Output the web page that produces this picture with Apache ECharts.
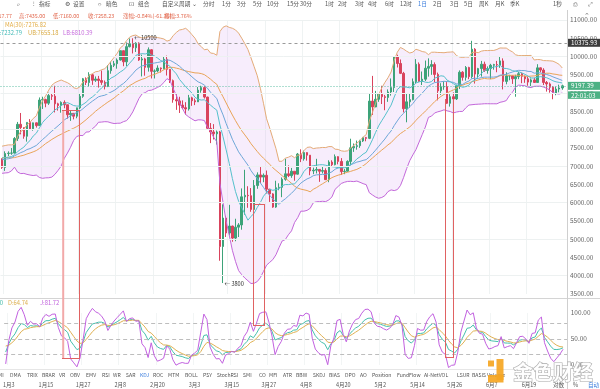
<!DOCTYPE html>
<html><head><meta charset="utf-8">
<script src="https://cdn.jsdelivr.net/npm/echarts@6/dist/echarts.min.js"></script>
<style>html,body{margin:0;padding:0;background:#fff}#c{width:600px;height:389px}</style>
</head><body><div id="c"></div><script>
// ---------- DATA ----------
// daily candles [open, high, low, close], 2020-01-02 .. 2020-06-30
const ohlc = [
[7200,7212,6925,6965],[6965,7405,6870,7345],[7345,7405,7275,7355],[7355,7495,7310,7358],[7358,7795,7345,7758],
[7758,8210,7690,8145],[8145,8455,7870,8055],[8055,8055,7750,7818],[7818,8200,7670,8197],[8197,8287,8030,8020],
[8020,8190,7970,8185],[8185,8195,8055,8110],[8110,8880,8105,8810],[8810,8900,8565,8822],[8822,8846,8612,8723],
[8723,9010,8675,8930],[8930,9000,8810,8915],[8915,9200,8470,8706],[8706,8735,8520,8658],[8658,8773,8462,8745],
[8745,8800,8585,8680],[8680,8680,8300,8406],[8406,8520,8238,8445],[8445,8445,8280,8367],[8367,8600,8310,8596],
[8596,8980,8560,8910],[8910,9414,8870,9392],[9392,9430,9220,9289],[9289,9570,9180,9500],[9500,9525,9225,9350],
[9350,9455,9305,9385],[9385,9469,9150,9344],[9344,9617,9225,9293],[9293,9344,9100,9180],[9180,9766,9163,9613],
[9613,9860,9530,9760],[9760,9880,9712,9805],[9805,9948,9667,9905],[9905,10160,9890,10160],[10160,10165,9735,9855],
[9855,10385,9740,10270],[10270,10495,10250,10350],[10350,10500,10085,10240],[10240,10393,10125,10365],[10365,10390,9880,9905],
[9905,10050,9455,9935],[9935,9965,9475,9705],[9705,10250,9587,10185],[10185,10200,9400,9595],[9595,9648,9400,9605],
[9605,9760,9567,9685],[9685,9700,9560,9665],[9665,9990,9650,9925],[9925,10025,9480,9650],[9650,9655,9275,9340],
[9340,9370,8735,8820],[8820,8970,8540,8785],[8785,8898,8455,8670],[8670,8800,8560,8600],
[8600,8750,8411,8565],[8565,8950,8520,8870],[8870,8900,8650,8790],[8790,8850,8670,8760],[8760,9165,8755,9080],
[9080,9200,9010,9150],[9150,9190,8850,8890],[8890,8900,8000,8035],[8035,8180,7630,7935],[7935,8150,7730,7885],
[7885,7975,7590,7935],[7935,7965,4410,4800],[4800,5955,3800,5580],[5580,5640,5060,5170],[5170,5940,5100,5360],
[5360,5370,4930,5030],[5030,5560,4945,5330],[5330,5440,5060,5390],[5390,6390,5260,6160],[6160,6900,5670,6200],
[6200,6450,5860,6190],[6190,6400,5750,5815],[5815,6620,5690,6470],[6470,6830,6380,6760],[6760,6975,6535,6700],
[6700,6800,6560,6750],[6750,6880,6250,6370],[6370,6375,6020,6240],[6240,6260,5860,5880],[5880,6600,5860,6410],
[6410,6530,6340,6420],
[6420,6690,6150,6640],[6640,7200,6600,6790],[6790,7020,6700,6740],[6740,6950,6680,6860],[6860,6860,6600,6780],
[6780,7360,6770,7330],[7330,7460,7110,7200],[7200,7425,7150,7370],[7370,7380,7150,7300],[7300,7300,6750,6870],
[6870,6960,6780,6890],[6890,7200,6800,6910],[6910,6910,6570,6860],[6860,6990,6800,6880],[6880,6940,6620,6630],
[6630,7160,6560,7110],[7110,7160,6985,7040],[7040,7320,7020,7260],[7260,7270,7050,7130],[7130,7220,6760,6850],
[6850,6920,6780,6860],[6860,7160,6850,7130],[7130,7750,7020,7500],[7500,7620,7390,7540],[7540,7700,7450,7560],
[7560,7720,7500,7690],[7690,7800,7660,7780],[7780,7800,7680,7760],[7760,8980,7740,8780],[8780,9470,8400,8620],
[8620,9060,8620,8830],[8830,9000,8760,8970],[8970,9200,8700,8900],[8900,8950,8530,8880],[8880,9100,8760,9030],
[9030,9400,8930,9150],[9150,10000,9030,9990],[9990,10050,9700,9810],[9810,9920,9520,9540],[9540,9580,8470,8570],
[8570,8980,8200,8760],[8760,8980,8600,8820],[8820,9400,8800,9310],[9310,9930,9260,9790],[9790,9840,9300,9320],
[9320,9590,9220,9380],[9380,9890,9330,9680],[9680,9950,9450,9730],[9730,9900,9500,9780],[9780,9840,9300,9510],
[9510,9560,8800,9060],[9060,9270,8950,9170],[9170,9320,9090,9180],[9180,9300,8700,8720],[8720,8970,8630,8900],
[8900,9020,8700,8840],[8840,9230,8810,9200],[9200,9620,9110,9570],[9570,9600,9340,9430],[9430,9740,9340,9700],
[9700,9720,9380,9450],
[9450,10430,9400,10200],[10200,10230,9260,9520],[9520,9690,9390,9670],[9670,9880,9450,9790],[9790,9860,9580,9620],
[9620,9730,9530,9670],[9670,9800,9380,9760],[9760,9800,9640,9780],[9780,9880,9570,9770],[9770,9990,9690,9880],
[9880,9950,9100,9320],[9320,9570,9240,9470],[9470,9500,9350,9470],[9470,9480,9250,9390],[9390,9500,8900,9450],
[9450,9580,9380,9530],[9530,9560,9270,9460],[9460,9480,9280,9390],[9390,9440,9200,9300],[9300,9400,9190,9360],
[9360,9420,9280,9290],[9290,9790,9280,9690],[9690,9700,9570,9630],[9630,9680,9220,9290],[9290,9330,9040,9250],
[9250,9290,9010,9160],[9160,9190,8830,9000],[9000,9180,8940,9110],[9110,9230,9020,9140],[9140,9230,9090,9197.39]
];
// preceding days (2019-12-04 .. 2020-01-01), used only to warm up the indicators
const warmHigh  = [7750,7485,7590,7630,7580,7620,7400,7270,7265,7310,7290,7190,7130,6940,7440,7350,7220,7200,7520,7695,7440,7270,7435,7275,7365,7520,7410,7320,7255];
const warmLow   = [7080,7170,7330,7480,7400,7270,7170,7130,7075,7150,7030,7020,6850,6560,6435,7040,7105,7125,7125,7265,7160,7130,7155,7060,7240,7290,7220,7150,7175];
const warmClose = [7200,7395,7545,7505,7505,7340,7220,7200,7190,7255,7065,7110,6885,6615,7280,7150,7190,7145,7510,7320,7255,7205,7200,7255,7315,7390,7245,7195,7200];
const firstDay = [2020, 0, 2];
const categoryCount = 182;
const priceAxis = {min: 3500, max: 11000, step: 500};
const gridLevels = [4000, 5000, 6000, 7000, 8000, 9000, 10000, 11000];
const kdjAxis = {min: 0, max: 100, step: 50};
const kdjLevels = [20, 50, 80];
const refPrice = 10375.93;
const lastPrice = 9197.39;
const countdown = '22:01:03';
const infoLine1 = [['开:7317.77',12,'right'],['高:7435.00',19],['低:7160.00',53],['收:7258.23',88],['涨幅:-0.84%(-61.35)',123],['振幅:3.76%',164]];
const infoLine2 = [['MA(30):7276.82',5,'#e3ad45']];
const infoLine3 = [['MID:7232.79',22,'#3fb9b6','right'],['UB:7655.18',28,'#d9ab45'],['LB:6810.39',63,'#c66bdc']];
const kdjLegend = [['K:70.40',3,'#3fb9a6','right'],['D:64.74',8,'#dcae4c'],['J:81.72',40,'#c062dc']];
const toolbar = [['⌕',17],['⫶',33],['指标',39],['⚙',65],['设置',73],['☼',97],['暗色',106],['⊡',129],['组合',138],['自定义周期 ⌄',162],
 ['分时',203],['1分',222],['3分',237],['5分',253],['10分',267],['15分',287],['30分',300],['1时',325],['2时',338],['3时',355],
 ['4时',368],['6时',385],['12时',400],['1日',418,'#3b7ddd'],['2日',433],['3日',450],['5日',464],['周K',479],['月K',495],['季K',510],
 ['1秒',553],['⎙',573],['⤢',588]];
const indicatorTabs = [['MI',-2],['DMA',10],['TRIX',27],['BRAR',42],['VR',59],['OBV',70],['EMV',86],['RSI',102],['WR',113],['SAR',126],
 ['KDJ',140,'#3b7ddd'],['ROC',153],['MTM',168],['BOLL',185],['PSY',203],['StochRSI',217],['SMI',243],['CO',259],['MFI',269],['ATR',283],
 ['BBW',296],['SKDJ',313],['BIAS',329],['DPO',345],['AO',360],['Position',372],['FundFlow',397],['AI-NetVOL',424],['LSUR',457],['BASIS',472],['Volume',487]];
const bottomButtons = [['对数',553],['%',573],['自动',588,'#3b7ddd']];

// ---------- INDICATORS (computed from the candles) ----------
const N = ohlc.length;
const W = warmClose.length;
const allC = warmClose.concat(ohlc.map(r => r[3]));
const allH = warmHigh.concat(ohlc.map(r => r[1]));
const allL = warmLow.concat(ohlc.map(r => r[2]));
function sma(n, j){ let s = 0; for (let k = j-n+1; k <= j; k++) s += allC[k]; return s/n; }
const r2 = v => Math.round(v*100)/100;
const ma10=[], mid=[], ub=[], lb=[], ma30=[], bandW=[];
for (let i = 0; i < N; i++){
  const j = W + i, m = sma(20, j);
  let v = 0; for (let k = j-19; k <= j; k++) v += (allC[k]-m)*(allC[k]-m);
  const sd = Math.sqrt(v/20);
  mid.push(r2(m)); ub.push(r2(m+2*sd)); lb.push(r2(m-2*sd)); bandW.push(r2(4*sd));
  ma10.push(r2(sma(10, j))); ma30.push(r2(sma(30, j)));
}
const kArr=[], dArr=[], jArr=[];
let K = 50, D = 50;
for (let j = 8; j < allC.length; j++){
  let hh = -Infinity, ll = Infinity;
  for (let k = j-8; k <= j; k++){ hh = Math.max(hh, allH[k]); ll = Math.min(ll, allL[k]); }
  const rsv = hh === ll ? 50 : (allC[j]-ll)/(hh-ll)*100;
  K = (2*K + rsv)/3; D = (2*D + K)/3;
  if (j >= W){ kArr.push(r2(K)); dArr.push(r2(D)); jArr.push(r2(3*K-2*D)); }
}
const dates = [];
for (let i = 0; i < categoryCount; i++){
  const d = new Date(firstDay[0], firstDay[1], firstDay[2]+i);
  dates.push((d.getMonth()+1) + '月' + d.getDate());
}
const labelAt = i => (i-1) % 12 === 0 && i < 172;

// ---------- CHART ----------
const FONT = '"Noto Sans CJK SC","Noto Sans",sans-serif';
const chart = echarts.init(document.getElementById('c'), null, {width:600, height:389, renderer:'canvas'});
const lineS = (name, data, color, xi, yi, z, extra) => Object.assign({
  name, type:'line', data, xAxisIndex:xi, yAxisIndex:yi, symbol:'none', silent:true, z,
  lineStyle:{color, width:1}, clip:false
}, extra||{});
const GRID_R = 600 - 567.7;
chart.setOption({
  animation:false,
  backgroundColor:'#fff',
  grid:[{left:0.5, right:GRID_R, top:20, height:274}, {left:0.5, right:GRID_R, top:313, height:52}],
  xAxis:[
    {type:'category', gridIndex:0, data:dates, boundaryGap:true, axisLine:{show:false}, axisTick:{show:false}, axisLabel:{show:false},
     splitLine:{show:true, interval:labelAt, lineStyle:{color:'#eff3f3', width:1}}},
    {type:'category', gridIndex:1, data:dates, boundaryGap:true, axisLine:{show:false}, axisTick:{show:false},
     axisLabel:{show:true, interval:labelAt, margin:17, fontSize:5.5, color:'#555', fontFamily:FONT},
     splitLine:{show:true, interval:labelAt, lineStyle:{color:'#f2f5f5', width:1}}}
  ],
  yAxis:[
    {type:'value', gridIndex:0, position:'right', min:priceAxis.min, max:priceAxis.max, interval:priceAxis.step,
     axisLine:{show:false}, axisTick:{show:false}, splitLine:{show:false},
     axisLabel:{fontSize:6.5, color:'#666', margin:3, fontFamily:FONT, formatter:v => v.toFixed(2)}},
    {type:'value', gridIndex:1, position:'right', min:kdjAxis.min, max:kdjAxis.max, interval:kdjAxis.step,
     axisLine:{show:false}, axisTick:{show:false}, splitLine:{show:false},
     axisLabel:{fontSize:6.5, color:'#666', margin:3, fontFamily:FONT, formatter:v => v.toFixed(2)}}
  ],
  series:[
    lineS('bandBase', lb, 'rgba(0,0,0,0)', 0, 0, 1, {stack:'boll', lineStyle:{width:0},
      markLine:{silent:true, symbol:['none','none'], label:{show:false}, lineStyle:{color:'#edf1f1', width:1, type:'solid'},
        data:gridLevels.map(v => ({yAxis:v}))}}),
    lineS('bandFill', bandW, 'rgba(0,0,0,0)', 0, 0, 1, {stack:'boll', lineStyle:{width:0}, areaStyle:{color:'rgba(214,160,238,0.27)'}}),
    {name:'K线', type:'candlestick', xAxisIndex:0, yAxisIndex:0, z:3, silent:true, barWidth:2,
     data:ohlc.map(r => [r[0], r[3], r[2], r[1]]),
     itemStyle:{color:'#3da379', color0:'#d9435d', borderColor:'#3da379', borderColor0:'#d9435d', borderWidth:1},
     markLine:{silent:true, symbol:['none','none'], label:{show:false}, data:[
       {yAxis:refPrice, lineStyle:{color:'#9a9a9a', width:1, type:[3,3]}},
       {yAxis:lastPrice, lineStyle:{color:'#5fbfa4', width:1, type:[1,2]}}]}},
    lineS('UB', ub, '#e4ab78', 0, 0, 4),
    lineS('LB', lb, '#c368da', 0, 0, 4),
    lineS('MA30', ma30, '#e9a458', 0, 0, 4),
    lineS('MID', mid, '#6ea7d8', 0, 0, 4),
    lineS('MA10', ma10, '#55c1cc', 0, 0, 4),
    lineS('K', kArr, '#45c0ac', 1, 1, 4, {markLine:{silent:true, symbol:['none','none'], label:{show:false},
      lineStyle:{color:'#bdbdbd', width:1, type:[4,3]}, data:kdjLevels.map(v => ({yAxis:v}))}}),
    lineS('D', dArr, '#e0b152', 1, 1, 4),
    lineS('J', jArr, '#c261e0', 1, 1, 5)
  ]
});

// ---------- overlay texts / annotations ----------
function T(text, x, y, size, color, align, extra){
  return {type:'text', silent:true, z:100, style:Object.assign({text, x, y, font:size+'px '+FONT, fill:color, align:align||'left', verticalAlign:'middle'}, extra||{})};
}
function L(x1, y1, x2, y2, color, w, dash){
  return {type:'line', silent:true, z:95, shape:{x1, y1, x2, y2}, style:{stroke:color, lineWidth:w||1, lineDash:dash||null}};
}
function R(x, y, w, h, fill, z){ return {type:'rect', silent:true, z:z||96, shape:{x, y, width:w, height:h}, style:{fill}}; }
const g = [];
toolbar.forEach(t => g.push(T(t[0], t[1], 4, 5.7, t[2]||'#555')));
infoLine1.forEach(t => g.push(T(t[0], t[1], 16, 5.4, '#e2684e', t[2])));
infoLine2.forEach(t => g.push(T(t[0], t[1], 25, 5.8, t[2])));
infoLine3.forEach(t => g.push(T(t[0], t[1], 33, 5.8, t[2], t[3])));
kdjLegend.forEach(t => g.push(T(t[0], t[1], 303, 5.8, t[2], t[3])));
indicatorTabs.forEach(t => g.push(T(t[0], t[1], 375, 5.1, t[2]||'#555')));
bottomButtons.forEach(t => g.push(T(t[0], t[1], 385, 5.6, t[2]||'#555')));
// frame lines
g.push(L(0, 298.5, 600, 298.5, '#d4d4d4'));
g.push(L(0, 369.5, 567.7, 369.5, '#e6e6e6'));
g.push(L(567.5, 10, 567.5, 389, '#cfcfcf'));
g.push(T('⌃', 584, 15, 7, '#777'));
// price boxes on the axis
const yRef = chart.convertToPixel({yAxisIndex:0}, refPrice);
const yLast = chart.convertToPixel({yAxisIndex:0}, lastPrice);
g.push(R(568, yRef-4, 32, 8, '#3d3d3d'));
g.push(T(refPrice.toFixed(2), 571, yRef, 6.3, '#fff'));
g.push(R(568, yLast-4, 32, 8, '#4cb184'));
g.push(T(lastPrice.toFixed(2), 571, yLast, 6.3, '#fff'));
g.push(R(568, yLast+5.5, 32, 7.5, '#4cb184'));
g.push(T(countdown, 571, yLast+9.3, 6.3, '#fff'));
// max / min markers
let iMax = 0, iMin = 0;
ohlc.forEach((r, i) => { if (r[1] > ohlc[iMax][1]) iMax = i; if (r[2] < ohlc[iMin][2]) iMin = i; });
const pMax = chart.convertToPixel({gridIndex:0}, [iMax, ohlc[iMax][1]]);
const pMin = chart.convertToPixel({gridIndex:0}, [iMin, ohlc[iMin][2]]);
g.push(T('← ' + ohlc[iMax][1], pMax[0]+1.5, pMax[1], 5.6, '#333'));
g.push(T('← ' + ohlc[iMin][2], pMin[0]+1.5, pMin[1]+1, 5.6, '#333'));
// hand-drawn red boxes
const red = '#e06262';
g.push(L(63.2, 110, 63.2, 358, '#f2a9a9', 2));
g.push(L(79.5, 110, 79.5, 358, red));
g.push(L(62, 110.5, 80, 110.5, red));
g.push(L(62, 358.5, 80, 358.5, red));
g.push(L(253.5, 204, 253.5, 325, red));
g.push(L(264.5, 204, 264.5, 325, red));
g.push(L(253, 204.5, 265, 204.5, red));
g.push(L(253, 325.5, 265, 325.5, red));
g.push(L(445.5, 99, 445.5, 357, red));
g.push(L(453.5, 99, 453.5, 357, red));
g.push(L(445, 357.5, 454, 357.5, red));
// watermark
g.push(R(496.5, 359, 7, 21, 'rgba(245,166,35,0.92)', 120));
g.push(R(488, 375, 15.5, 7.5, 'rgba(245,166,35,0.92)', 120));
g.push(R(488, 360.5, 6, 6, 'rgba(245,166,35,0.92)', 120));
g.push({type:'text', silent:true, z:121, style:{text:'金色财经', x:513, y:372, font:'bold 20px '+FONT, fill:'rgba(255,255,255,0.95)', stroke:'#ababab', lineWidth:1.2, align:'left', verticalAlign:'middle'}});
chart.setOption({graphic:g});
</script></body></html>
